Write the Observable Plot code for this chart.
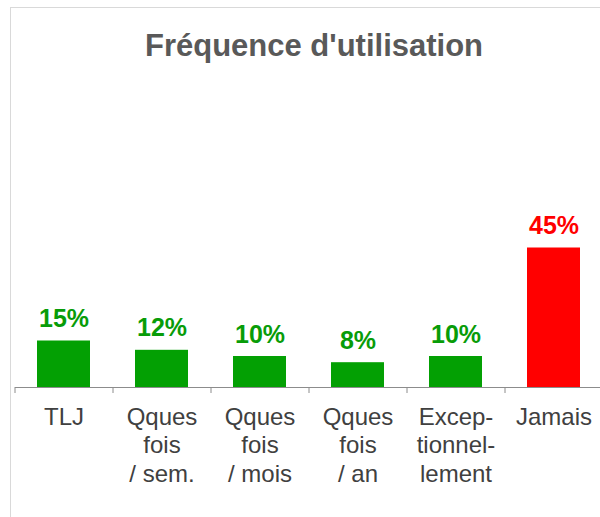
<!DOCTYPE html>
<html>
<head>
<meta charset="utf-8">
<script src="https://cdn.jsdelivr.net/npm/d3@7"></script>
<script src="https://cdn.jsdelivr.net/npm/@observablehq/plot@0.6"></script>
<style>
  html, body { margin: 0; padding: 0; background: #fff; }
  #wrap { position: relative; width: 600px; height: 517px; overflow: hidden; font-family: "Liberation Sans", Arial, sans-serif; }
  #border { position: absolute; left: 10px; top: 7px; width: 700px; height: 600px; border: 1px solid #d9d9d9; box-sizing: border-box; }
  #title { position: relative; height: 80px; box-sizing: border-box; padding-top: 30px; padding-left: 28px; text-align: center; font-weight: bold; font-size: 31px; line-height: 31px; color: #595959; }
  #plot { position: relative; }
</style>
</head>
<body>
<div id="wrap">
  <div id="border"></div>
  <div id="title">Fréquence d'utilisation</div>
  <div id="plot"></div>
</div>
<script>
const categories = ["TLJ", "Qques fois / sem.", "Qques fois / mois", "Qques fois / an", "Exceptionnellement", "Jamais"];
const tickLabels = ["TLJ", "Qques\nfois\n/ sem.", "Qques\nfois\n/ mois", "Qques\nfois\n/ an", "Excep-\ntionnel-\nlement", "Jamais"];
const values = [15, 12, 10, 8, 10, 45];
const barColors = ["#03a003", "#03a003", "#03a003", "#03a003", "#03a003", "#ff0000"];
const labelColors = ["#089c08", "#089c08", "#089c08", "#089c08", "#089c08", "#ff0000"];

const data = categories.map((c, i) => ({cat: c, value: values[i], label: tickLabels[i], bar: barColors[i], lab: labelColors[i]}));

const chart = Plot.plot({
  width: 600,
  height: 437,
  marginLeft: 15,
  marginRight: 0,
  marginTop: 167.5,
  marginBottom: 130,
  style: {fontFamily: "'Liberation Sans', Arial, sans-serif", background: "transparent", overflow: "visible"},
  x: {domain: categories, range: [15, 603], paddingInner: 0.459, paddingOuter: 0.2295, axis: null, label: null},
  y: {domain: [0, 45], axis: null},
  marks: [
    Plot.barY(data, {x: "cat", y: "value", fill: d => d.bar}),
    Plot.ruleY([0], {stroke: "#8c8c8c", strokeWidth: 1}),
    Plot.axisX({tickSize: 6, tickFormat: () => "", label: null, dx: -49, stroke: "#8c8c8c", strokeOpacity: 1}),
    Plot.text(data, {x: "cat", y: "value", text: d => d.value + "%", lineAnchor: "bottom", dy: -14, fontSize: 25, fontWeight: "bold", fill: d => d.lab}),
    Plot.text(data, {x: "cat", y: () => 0, text: "label", lineAnchor: "top", dy: 17, fontSize: 24, lineHeight: 1.19, fill: "#404040"})
  ]
});
document.getElementById("plot").appendChild(chart);
</script>
</body>
</html>
